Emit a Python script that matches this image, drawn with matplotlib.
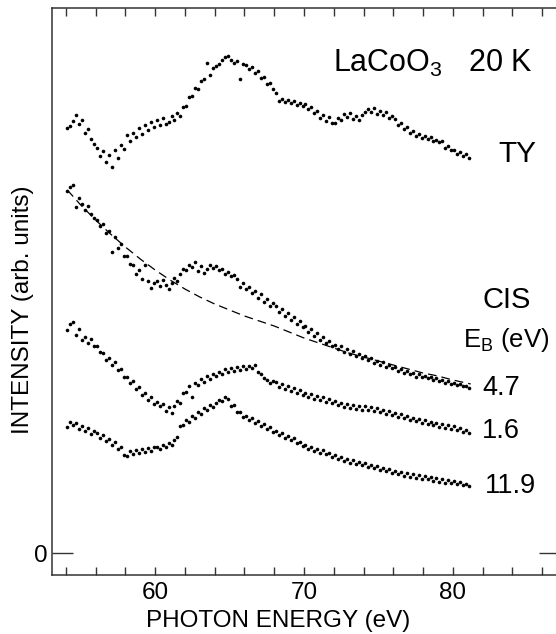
import numpy as np
import matplotlib
matplotlib.use("Agg")
import matplotlib.pyplot as plt

plt.rcParams['font.family'] = ['Liberation Sans', 'DejaVu Sans']
plt.rcParams['mathtext.fontset'] = 'custom'
plt.rcParams['mathtext.rm'] = 'Liberation Sans'

# photon energy grid of the scans (eV)
energy = np.round(np.arange(54.1, 81.15, 0.2), 2)

# total yield spectrum (arb. units)
ty = [425, 427, 432, 438, 429, 433, 420, 424, 414, 409,
      405, 397, 402, 391, 398, 386, 403, 395, 408, 404,
      418, 412, 420, 416, 425, 419, 428, 423, 431, 426,
      433, 428, 435, 429, 431, 437, 433, 440, 437, 446,
      447, 456, 457, 465, 464, 472, 474, 490, 478, 485,
      487, 489, 493, 496, 497, 493, 490, 492, 474, 489,
      488, 484, 486, 480, 482, 475, 476, 469, 470, 464,
      460, 452, 454, 451, 453, 450, 452, 448, 450, 447,
      449, 444, 446, 440, 442, 435, 438, 432, 436, 430,
      430, 435, 433, 439, 436, 440, 434, 437, 433, 438,
      441, 444, 441, 445, 439, 442, 438, 441, 435, 437,
      434, 428, 430, 424, 426, 420, 422, 417, 419, 415,
      417, 414, 416, 412, 413, 411, 412, 405, 407, 403,
      403, 399, 401, 397, 399, 395]

# CIS spectra, E_B = 4.7, 1.6, 11.9 eV
cis_47 = [362, 366, 368, 346, 355, 349, 343, 347, 339, 335,
          333, 327, 329, 320, 322, 301, 316, 305, 309, 297,
          297, 289, 288, 279, 283, 274, 288, 272, 265, 270,
          272, 267, 273, 268, 264, 270, 275, 272, 279, 284,
          283, 288, 286, 291, 282, 287, 280, 284, 288, 285,
          287, 283, 284, 279, 281, 277, 278, 274, 266, 270,
          264, 266, 260, 262, 255, 259, 251, 254, 247, 250,
          247, 241, 244, 237, 240, 233, 236, 229, 232, 226,
          227, 221, 224, 217, 220, 213, 216, 210, 212, 207,
          208, 204, 207, 201, 204, 199, 202, 197, 199, 195,
          197, 193, 195, 190, 192, 188, 191, 186, 188, 185,
          186, 182, 184, 180, 182, 179, 180, 176, 179, 176,
          177, 175, 176, 173, 175, 172, 173, 170, 172, 169,
          170, 168, 169, 167, 167, 165]

cis_16 = [223, 229, 231, 218, 224, 213, 216, 210, 214, 207,
          207, 201, 200, 193, 195, 188, 191, 183, 184, 176,
          176, 170, 172, 164, 166, 158, 160, 153, 156, 149,
          151, 147, 149, 142, 146, 140, 147, 152, 150, 160,
          161, 167, 156, 170, 168, 174, 171, 177, 174, 179,
          177, 181, 179, 184, 181, 185, 182, 186, 183, 187,
          184, 187, 185, 188, 181, 179, 175, 173, 170, 172,
          171, 166, 169, 164, 167, 162, 165, 160, 163, 158,
          160, 156, 159, 154, 157, 153, 156, 151, 154, 150,
          152, 148, 150, 146, 149, 145, 148, 144, 147, 143,
          147, 143, 146, 142, 145, 141, 143, 139, 142, 138,
          140, 136, 139, 135, 137, 133, 135, 132, 134, 130,
          133, 129, 131, 128, 130, 126, 129, 125, 128, 124,
          127, 123, 125, 121, 123, 120]

cis_119 = [126, 131, 128, 130, 124, 127, 122, 125, 119, 122,
           120, 115, 118, 112, 114, 108, 111, 104, 106, 98,
           97, 102, 99, 103, 100, 104, 101, 105, 102, 106,
           106, 104, 108, 106, 110, 108, 113, 116, 127, 128,
           133, 131, 137, 135, 141, 139, 145, 143, 148, 146,
           150, 153, 152, 156, 154, 147, 148, 141, 141, 136,
           137, 133, 135, 130, 132, 127, 129, 124, 126, 121,
           122, 118, 120, 115, 117, 113, 115, 110, 111, 107,
           108, 104, 106, 102, 104, 100, 103, 99, 100, 96,
           98, 94, 96, 92, 94, 90, 93, 89, 91, 88,
           90, 86, 88, 85, 87, 83, 85, 82, 84, 80,
           82, 79, 81, 77, 80, 76, 79, 75, 78, 74,
           77, 74, 76, 72, 75, 71, 74, 70, 73, 70,
           72, 69, 71, 68, 69, 67]

# background under the 4.7 eV spectrum (dashed)
bg_energy = [54.1, 55, 56, 57, 58, 59, 60, 61, 62, 63, 64, 65, 66, 67,
             68, 69, 70, 71, 72, 73, 74, 75, 76, 77, 78, 79, 80, 81.2]
bg_level = [363, 348, 333, 319, 306, 294, 283, 273, 264, 256, 249, 243,
            237, 232, 227, 221, 215, 210, 205, 200, 196, 192, 188, 184,
            180, 177, 173, 169]

x_ticks = list(range(54, 88, 2))
x_labels = ['60', '70', '80']

fig = plt.figure(figsize=(5.56, 6.34), dpi=100)
ax = fig.add_axes([52 / 556, 59 / 634, 508 / 556, 567 / 634])

for series in (ty, cis_47, cis_16, cis_119):
    ax.plot(energy, series, 'o', color='black', markersize=2.6, markeredgewidth=0)
ax.plot(bg_energy, bg_level, color='black', lw=0.9, dashes=(7, 4))

ax.set_xlim(53.07, 87.2)
ax.set_ylim(-22, 545)

ax.set_xticks(x_ticks)
ax.set_xticklabels([str(t) if str(t) in x_labels else '' for t in x_ticks])
ax.set_yticks([0])
ax.set_yticklabels(['0'])
ax.tick_params(axis='x', direction='in', length=6, width=1, top=True,
               labelsize=17.5, pad=5, color='#333333')
ax.tick_params(axis='y', direction='in', length=15, width=1, right=True,
               labelsize=17.5, pad=3, color='#333333')
for sp in ax.spines.values():
    sp.set_linewidth(1.1)
    sp.set_color('#333333')

fig.text(0.5, 1 - 627 / 634, 'PHOTON ENERGY (eV)', ha='center', va='baseline', fontsize=17.5)
fig.text(23 / 556, 1 - 310 / 634, 'INTENSITY (arb. units)', rotation=90,
         ha='center', va='center', fontsize=17.5)

ax.text(71.95, 481, r'LaCoO$_\mathregular{3}$   20 K', fontsize=22, va='baseline')
ax.text(83.04, 391, 'TY', fontsize=21.5, va='baseline')
ax.text(81.97, 245, 'CIS', fontsize=21, va='baseline')
ax.text(80.69, 206, r'E$_\mathregular{B}$ (eV)', fontsize=18.5, va='baseline')
ax.text(81.97, 158, '4.7', fontsize=19.5, va='baseline')
ax.text(81.97, 115, '1.6', fontsize=19.5, va='baseline')
ax.text(82.17, 60, '11.9', fontsize=19.5, va='baseline')

fig.savefig('out.png', dpi=100)
